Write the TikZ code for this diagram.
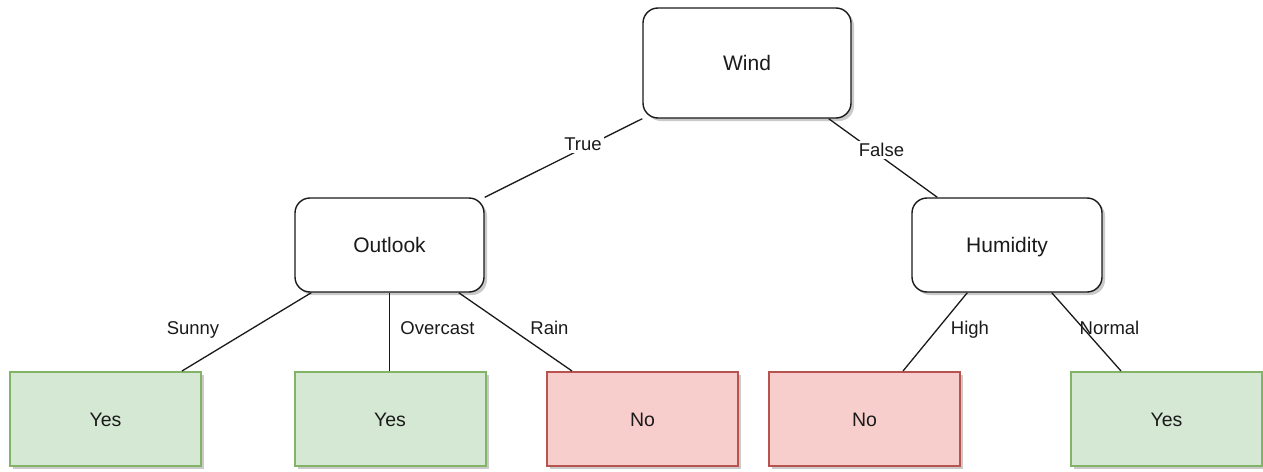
\documentclass[tikz,border=0pt]{standalone}
\usepackage{fontspec}
\setmainfont{Liberation Sans}
\usetikzlibrary{calc,shadows}
\definecolor{yesfill}{HTML}{D5E8D4}
\definecolor{yesline}{HTML}{82B366}
\definecolor{nofill}{HTML}{F8CECC}
\definecolor{noline}{HTML}{B85450}
\definecolor{ink}{HTML}{1A1A1A}
\tikzset{
  boxshadow/.style={drop shadow={shadow xshift=3pt,shadow yshift=-3pt,opacity=0.35,fill=black!60}},
  decision/.style={draw=ink,line width=1.4pt,fill=white,rounded corners=15pt,
    boxshadow,font=\fontsize{21}{25}\selectfont,text=ink,
    text height=15pt,text depth=0pt},
  leaf/.style={line width=2pt,boxshadow,minimum width=191pt,minimum height=94pt,
    font=\fontsize{19.5}{23}\selectfont,text=ink,text height=14pt,text depth=0pt},
  leafyes/.style={leaf,draw=yesline,fill=yesfill},
  leafno/.style={leaf,draw=noline,fill=nofill},
  branch/.style={draw=ink,line width=1.3pt},
  edgelabel/.style={font=\fontsize{18.5}{22}\selectfont,text=ink,inner sep=2.5pt,
    text height=13.5pt,text depth=0pt},
}
\begin{document}
\begin{tikzpicture}[x=1pt,y=-1pt]
  \useasboundingbox (0,0) rectangle (1263,471);

  % inner decision nodes
  \node[decision,minimum width=208pt,minimum height=110pt] (wind) at (747,63) {Wind};
  \node[decision,minimum width=189pt,minimum height=94pt] (outlook) at (389.5,245) {Outlook};
  \node[decision,minimum width=190pt,minimum height=94pt] (humidity) at (1007,245) {Humidity};

  % leaves
  \node[leafyes] (yes1) at (105.5,419) {Yes};
  \node[leafyes] (yes2) at (390,419) {Yes};
  \node[leafno]  (no1)  at (642.5,419) {No};
  \node[leafno]  (no2)  at (864.5,419) {No};
  \node[leafyes] (yes3) at (1166.5,419) {Yes};

  % Wind branches, labels sit on the line with a white background
  \draw[branch] (wind.south west) -- (outlook.north east);
  \node[edgelabel,fill=white] (ltrue) at (583,144) {True};
  \draw[branch] ($(wind.south east)+(-23,0)$) -- ($(humidity.north west)+(26,0)$);
  \node[edgelabel,fill=white] (lfalse) at (881.5,150) {False};

  % Outlook branches
  \draw[branch] ($(outlook.south west)+(17,0)$) -- ($(yes1.north west)+(173,0)$);
  \draw[branch] (outlook.south) -- (outlook.south |- yes2.north);
  \draw[branch] ($(outlook.south east)+(-26,0)$) -- ($(no1.north west)+(26,0)$);
  \node[edgelabel] (lsunny) at (193,328) {Sunny};
  \node[edgelabel] (lovercast) at (437.5,328) {Overcast};
  \node[edgelabel] (lrain) at (549.5,328) {Rain};

  % Humidity branches
  \draw[branch] ($(humidity.south west)+(56,0)$) -- ($(no2.north west)+(135,0)$);
  \draw[branch] ($(humidity.south east)+(-51,0)$) -- ($(yes3.north west)+(51,0)$);
  \node[edgelabel] (lhigh) at (970,328) {High};
  \node[edgelabel] (lnormal) at (1109.5,328) {Normal};
\end{tikzpicture}
\end{document}
